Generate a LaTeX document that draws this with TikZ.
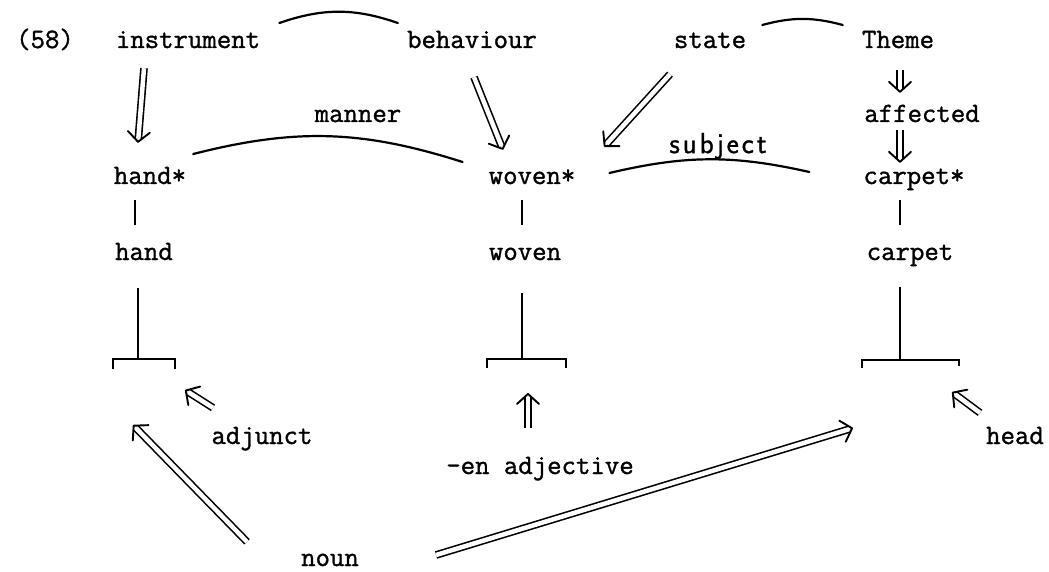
\documentclass[tikz,border=0pt]{standalone}
\usepackage{fontspec}
\newfontfamily\typer[FakeBold=1.2]{Latin Modern Mono}
\newfontfamily\scrawl[LetterSpace=10, FakeBold=1]{Latin Modern Sans}
\usetikzlibrary{arrows.meta, positioning}
\tikzset{
    word/.style={font=\typer\fontsize{28}{32}\selectfont, inner sep=0pt, text height=12pt, text depth=0pt},
    hand/.style={font=\scrawl\fontsize{29}{30}\selectfont, inner sep=0pt},
    shaft/.style={draw, double, double distance=4.5pt, line width=1.6pt, shorten >=4pt},
    tip/.style={draw=white, line width=1pt, -{Straight Barb[length=10pt, width=22pt, line width=1.9pt, color=black, round]}},
    arc/.style={line width=2.2pt, line cap=round},
    line/.style={line width=1.8pt}
}

\begin{document}
\begin{tikzpicture}[x=1pt, y=-1pt]
        	\useasboundingbox (0,0) rectangle (1049,572);
        	% top row
        	\node (num) [word] at (45,42) {(58)};
        	\node (instr) [word] at (188,42) {instrument};
        	\node (behav) [word] at (472,42) {behaviour};
        	\node (state) [word] at (710,42) {state};
        	\node (theme) [word] at (898,42) {Theme};
        	\node (affected) [word] at (922,116) {affected};
        	\node (manner) [word] at (358,116) {manner};
        	\node (subj) [hand] at (718,146) {subject};
        	\node (handS) [word] at (150,178) {hand*};
        	\node (wovenS) [word] at (532,178) {woven*};
        	\node (carpetS) [word] at (914,178) {carpet*};
        	\node (hand) [word] at (144,254) {hand};
        	\node (woven) [word] at (525,254) {woven};
        	\node (carpet) [word] at (910,254) {carpet};
        	\node (adjunct) [word] at (262,438) {adjunct};
        	\node (enadj) [word] at (540,468) {-en adjective};
        	\node (head) [word] at (1015,438) {head};
        	\node (noun) [word] at (330,560) {noun};
        	
        	\coordinate (hbr) at (138,359);
        	\coordinate (hbrL) at (113,359);
        	\coordinate (hbrR) at (175,359);
        	\coordinate (wbr) at (522,359);
        	\coordinate (wbrL) at (487,359);
        	\coordinate (wbrR) at (566,359);
        	\coordinate (cbr) at (900,360);
        	\coordinate (cbrL) at (862,360);
        	\coordinate (cbrR) at (959,360);
        	
        	\draw[arc] ([shift={(19,-19)}]instr.east) to[bend left=19] ([shift={(-9,-19)}]behav.west);
        	\draw[arc] ([shift={(16,-17)}]state.east) to[bend left=15] ([shift={(-19,-17)}]theme.west);
        	\draw[arc] ([shift={(7,-24)}]handS.east) to[bend left=16] ([shift={(-26,-16)}]wovenS.west);
        	\draw[arc] ([shift={(34,-5)}]wovenS.east) to[bend left=13] ([shift={(-54,-6)}]carpetS.west);
        	
        	\path ([shift={(-44,20)}]instr.south) edge[shaft] ([shift={(-12,-29)}]handS.north) edge[tip] ([shift={(-12,-29)}]handS.north);
        	\path ([shift={(2,29)}]behav.south) edge[shaft] ([shift={(-29,-22)}]wovenS.north) edge[tip] ([shift={(-29,-22)}]wovenS.north);
        	\path ([shift={(-40,26)}]state.south) edge[shaft] ([shift={(72,-25)}]wovenS.north) edge[tip] ([shift={(72,-25)}]wovenS.north);
        	\path ([shift={(2,22)}]theme.south) edge[shaft] ([shift={(-22,-17)}]affected.north) edge[tip] ([shift={(-22,-17)}]affected.north);
        	\path ([shift={(-22,8)}]affected.south) edge[shaft] ([shift={(-14,-9)}]carpetS.north) edge[tip] ([shift={(-14,-9)}]carpetS.north);
        	
        	\draw[line] ([shift={(-15,16)}]handS.south) -- ([shift={(-9,-23)}]hand.north);
        	\draw[line] ([shift={(-10,16)}]wovenS.south) -- ([shift={(-3,-23)}]woven.north);
        	\draw[line] ([shift={(-14,16)}]carpetS.south) -- ([shift={(-10,-23)}]carpet.north);
        	
        	\draw[line] ([shift={(-6,28)}]hand.south) -- (hbr);
        	\draw[line] ([shift={(-3,33)}]woven.south) -- (wbr);
        	\draw[line] ([shift={(-10,27)}]carpet.south) -- (cbr);
        	\draw[line] ([yshift=-10pt]hbrL) -- (hbrL) -- (hbrR) -- ([yshift=-10pt]hbrR);
        	\draw[line] ([yshift=-9pt]wbrL) -- (wbrL) -- (wbrR) -- ([yshift=-9pt]wbrR);
        	\draw[line] ([yshift=-8pt]cbrL) -- (cbrL) -- (cbrR) -- ([yshift=-6pt]cbrR);
        	
        	\path ([shift={(-83,-12)}]noun.north) edge[shaft] ([shift={(20,66)}]hbrL) edge[tip] ([shift={(20,66)}]hbrL);
        	\path ([shift={(-49,-24)}]adjunct.north) edge[shaft] ([shift={(10,31)}]hbrR) edge[tip] ([shift={(10,31)}]hbrR);
        	\path ([shift={(-12,-34)}]enadj.north) edge[shaft] ([shift={(6,34)}]wbr) edge[tip] ([shift={(6,34)}]wbr);
        	\path ([shift={(77,-5)}]noun.east) edge[shaft] ([shift={(-9,68)}]cbrL) edge[tip] ([shift={(-9,68)}]cbrL);
        	\path ([shift={(-35,-19)}]head.north) edge[shaft] ([shift={(-7,32)}]cbrR) edge[tip] ([shift={(-7,32)}]cbrR);
        \end{tikzpicture}
\end{document}
